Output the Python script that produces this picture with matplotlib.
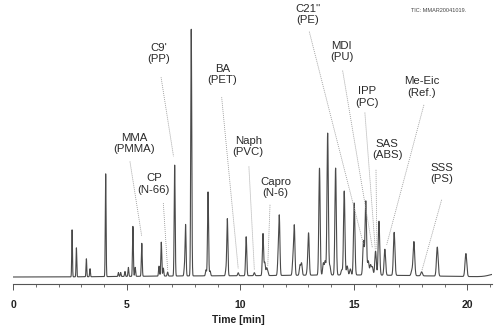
import numpy as np
import matplotlib
matplotlib.use("Agg")
import matplotlib.pyplot as plt
from matplotlib.ticker import MultipleLocator

plt.rcParams['font.family'] = ['Liberation Sans', 'DejaVu Sans']

# Peak table of the total ion chromatogram: retention time (min) and height (a.u.)
peak_times = [2.59, 2.78, 3.22, 3.38, 4.07, 4.63, 4.73, 4.92, 5.07, 5.27, 5.37, 5.66,
              6.42, 6.52, 6.61, 6.80, 7.11, 7.54, 7.59, 7.84, 8.49, 8.58, 8.67,
              9.37, 9.43, 9.91, 10.26, 10.62, 11.00, 11.08, 11.16, 11.21,
              11.67, 11.72, 12.32, 12.38, 12.63, 12.70, 12.96, 13.01,
              13.49, 13.66, 13.74, 13.85, 13.95, 14.20, 14.47, 14.58, 14.71, 14.85,
              15.02, 15.43, 15.53, 15.64, 15.74, 15.82, 15.96, 16.11, 16.37, 16.78,
              17.56, 17.65, 17.99, 18.68, 19.94]
peak_heights = [47, 29, 18, 8, 103, 4, 4, 5, 9, 50, 9, 33,
                10, 34, 8, 4, 111, 8, 51, 247, 6, 84, 5,
                6, 57, 3, 39, 3, 42, 13, 7, 4,
                18, 57, 15, 49, 10, 12, 6, 41,
                107, 12, 14, 142, 9, 107, 5, 84, 9, 6,
                72, 34, 74, 14, 10, 8, 24, 54, 26, 43,
                5, 34, 4, 29, 23]

# Slow baseline rise of the column bleed
bleed_times = [8.0, 15.0, 21.3]
bleed_heights = [1.0, 2.0, 3.0]
bleed_widths = [3.0, 3.0, 0.3]

# Marker compounds (label, polymer) and the retention time they point at
compound_labels = ["MMA\n(PMMA)", "CP\n(N-66)", "C9'\n(PP)", "BA\n(PET)", "Naph\n(PVC)",
                   "Capro\n(N-6)", "C21''\n(PE)", "MDI\n(PU)", "IPP\n(PC)", "SAS\n(ABS)",
                   "Me-Eic\n(Ref.)", "SSS\n(PS)"]
compound_times = [5.66, 6.80, 7.06, 9.91, 10.62, 11.21, 15.42, 15.82, 15.95, 16.02, 16.45, 18.00]

# Layout of the callouts: label centre, start of leader line, end height of leader line
label_pos = [(5.33, 133.6), (6.19, 93.1), (6.42, 223.6), (9.22, 203.0), (10.35, 130.6),
             (11.55, 90.0), (12.97, 262.5), (14.47, 226.0), (15.57, 180.3), (16.48, 127.6),
             (17.99, 190.3), (18.87, 104.0)]
leader_start = [(5.14, 115.6), (6.61, 74.0), (6.51, 200.0), (9.18, 180.0), (10.38, 110.6),
                (11.31, 72.3), (13.04, 245.6), (14.51, 206.6), (15.49, 164.6), (15.98, 107.3),
                (18.09, 172.3), (18.87, 77.3)]
leader_end_y = [40.6, 7.3, 120.6, 8.3, 7.3, 10.6, 33.3, 29.3, 27.3, 27.3, 32.3, 6.3]

t = np.linspace(0, 21.1, 12000)
signal = np.zeros_like(t)
for rt, h in zip(peak_times, peak_heights):
    sigma = 0.012 + 0.0013 * rt
    signal += h * np.exp(-0.5 * ((t - rt) / sigma) ** 2)
for rt, h, w in zip(bleed_times, bleed_heights, bleed_widths):
    signal += h * np.exp(-0.5 * ((t - rt) / w) ** 2)

fig = plt.figure(figsize=(4.99, 3.33), dpi=100)
ax = fig.add_axes([0.02665, 0.1462, 0.9593, 0.8538])
ax.plot(t, signal, color='#4a4a4a', lw=0.8)

ax.set_xlim(0, 21.09)
ax.set_ylim(-7.3, 277.3)
for side in ('left', 'top', 'right'):
    ax.spines[side].set_visible(False)
ax.spines['bottom'].set_color('#555555')
ax.spines['bottom'].set_linewidth(0.8)
ax.set_yticks([])
ax.xaxis.set_major_locator(MultipleLocator(5))
ax.xaxis.set_minor_locator(MultipleLocator(1))
ax.tick_params(axis='x', which='major', length=4, width=0.7, color='#555555',
               labelsize=7.5, pad=7, labelcolor='#222222')
ax.tick_params(axis='x', which='minor', length=2, width=0.6, color='#555555')
for lbl in ax.get_xticklabels():
    lbl.set_fontweight('bold')

ax.set_xlabel("Time [min]", fontsize=7.5, fontweight='bold', color='#222222')
ax.xaxis.set_label_coords(0.4704, -0.108)

for text, (lx, ly), (sx, sy), ct, ey in zip(compound_labels, label_pos, leader_start,
                                            compound_times, leader_end_y):
    ax.text(lx, ly, text, ha='center', va='center', fontsize=8.2, color='#2a2a2a',
            linespacing=1.15, clip_on=False)
    ax.plot([sx, ct], [sy, ey], color='#9a9a9a', lw=0.6, linestyle=(0, (1.2, 1.2)),
            clip_on=False)

fig.text(439 / 499, 1 - 10 / 333, "TIC: MMAR20041019.", ha='center', va='center',
         fontsize=4, color='#444444')

fig.savefig("out.png", dpi=100)
